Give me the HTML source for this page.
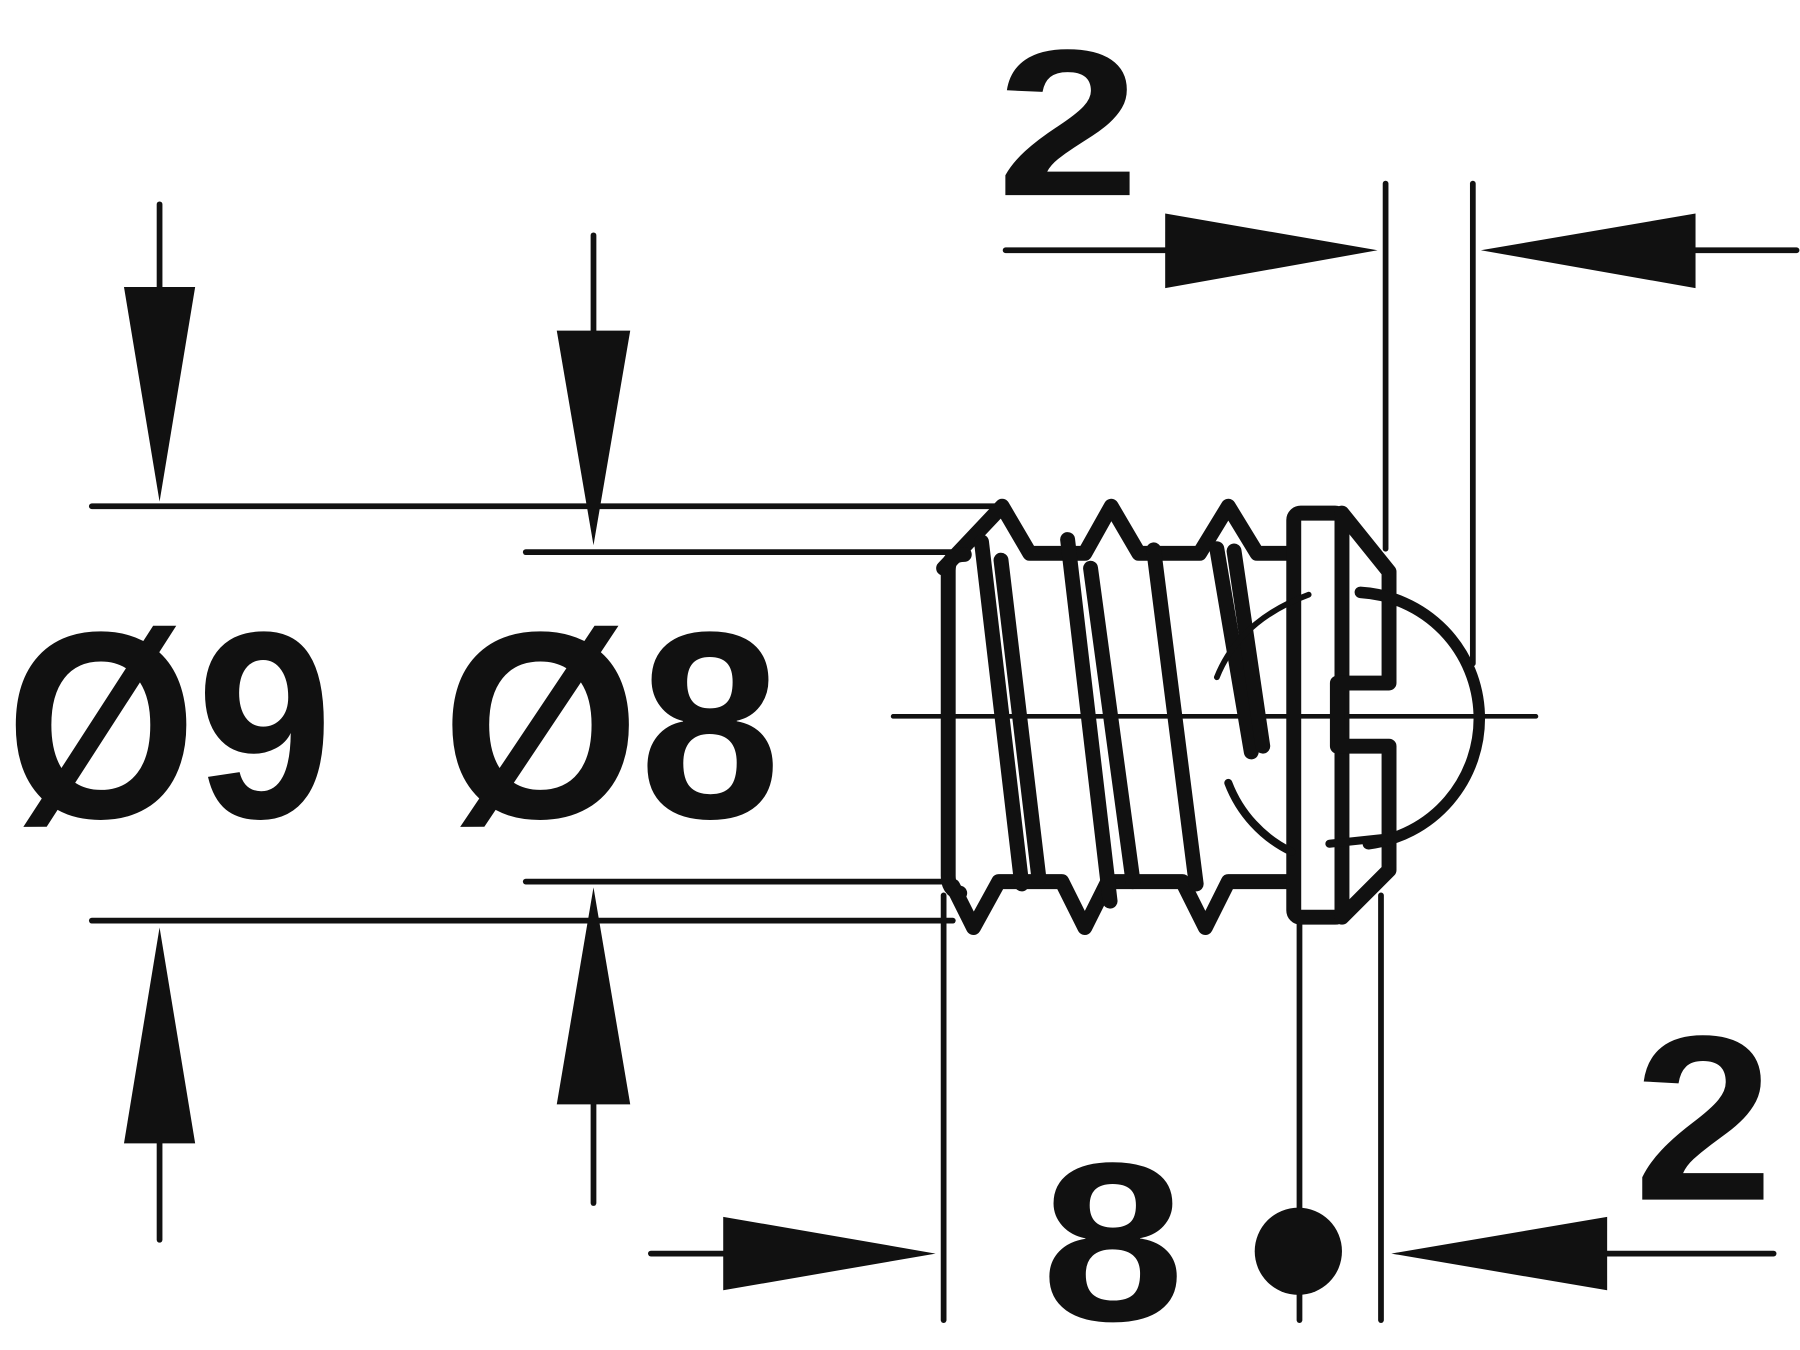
<!DOCTYPE html>
<html><head><style>html,body{margin:0;padding:0;background:#fff}svg{display:block}</style></head>
<body>
<svg width="1800" height="1350" viewBox="0 0 1568 1176" preserveAspectRatio="none" xmlns="http://www.w3.org/2000/svg">
<g stroke="#111" fill="none" stroke-linecap="round" stroke-linejoin="round">
<g stroke-width="5">
<line x1="80" y1="441" x2="870" y2="441"/>
<line x1="458" y1="481" x2="830" y2="481"/>
<line x1="458" y1="768" x2="830" y2="768"/>
<line x1="80" y1="802" x2="830" y2="802"/>
<line x1="139" y1="178" x2="139" y2="255"/>
<line x1="139" y1="990" x2="139" y2="1080"/>
<line x1="517" y1="205" x2="517" y2="292"/>
<line x1="517" y1="958" x2="517" y2="1048"/>
<line x1="876" y1="218" x2="1020" y2="218"/>
<line x1="1470" y1="218" x2="1565" y2="218"/>
<line x1="1207" y1="160" x2="1207" y2="478"/>
<line x1="1283" y1="160" x2="1283" y2="578"/>
<line x1="567" y1="1092" x2="635" y2="1092"/>
<line x1="1395" y1="1092" x2="1545" y2="1092"/>
<line x1="822" y1="780" x2="822" y2="1150"/>
<line x1="1203" y1="780" x2="1203" y2="1150"/>
<line x1="1132" y1="800" x2="1132" y2="1150"/>
<line x1="778" y1="624" x2="1338" y2="624" stroke-width="4"/>
</g>
<g stroke-width="13">
<path d="M822,495 L873,441 L897,482 L945,482 L968,441 L992,482 L1045,482 L1070,441 L1095,482 L1125,482"/>
<path d="M830,772 L848,808 L870,768 L925,768 L945,808 L965,768 L1030,768 L1050,808 L1070,768 L1125,768"/>
<path d="M840,483 Q826,483 826,497 L826,763 Q826,775 836,778"/>
<line x1="855" y1="472" x2="890" y2="770"/>
<line x1="872" y1="488" x2="905" y2="765"/>
<line x1="930" y1="470" x2="967" y2="785"/>
<line x1="950" y1="495" x2="987" y2="768"/>
<line x1="1005" y1="479" x2="1042" y2="770"/>
<path d="M1060,478 L1090,655"/>
<path d="M1075,480 L1100,650"/>
<rect x="1127" y="447" width="42" height="352" rx="6"/>
<path d="M1169,447 L1210,498 L1210,595 L1165,595 L1165,650 L1210,650 L1210,758 L1169,799"/>
<path d="M1185,516 A110,110 0 0 1 1192,735" stroke-width="10"/>
<path d="M1070,682 A110,110 0 0 0 1125,742" stroke-width="7"/>
<path d="M1060,590 Q1080,540 1140,518" stroke-width="5"/>
<path d="M1158,735 L1205,730" stroke-width="7"/>
</g>
</g>
<g fill="#111">
<polygon points="108,250 170,250 139,437"/>
<polygon points="108,996 170,996 139,808"/>
<polygon points="485,288 549,288 517,475"/>
<polygon points="485,962 549,962 517,773"/>
<polygon points="1015,186 1015,251 1200,218"/>
<polygon points="1477,186 1477,251 1290,218"/>
<polygon points="630,1060 630,1124 815,1092"/>
<polygon points="1400,1060 1400,1124 1212,1092"/>
<circle cx="1131" cy="1090" r="38"/>
</g>
<g font-family="Liberation Sans, sans-serif" font-weight="bold" fill="#111">
<text x="5" y="712" font-size="232" textLength="285" lengthAdjust="spacingAndGlyphs">Ø9</text>
<text x="385" y="712" font-size="232" textLength="295" lengthAdjust="spacingAndGlyphs">Ø8</text>
<text x="868" y="170" font-size="182" textLength="125" lengthAdjust="spacingAndGlyphs">2</text>
<text x="1423" y="1045" font-size="205" textLength="122" lengthAdjust="spacingAndGlyphs">2</text>
<text x="907" y="1150" font-size="197" textLength="125" lengthAdjust="spacingAndGlyphs">8</text>
</g>
</svg>
</body></html>
